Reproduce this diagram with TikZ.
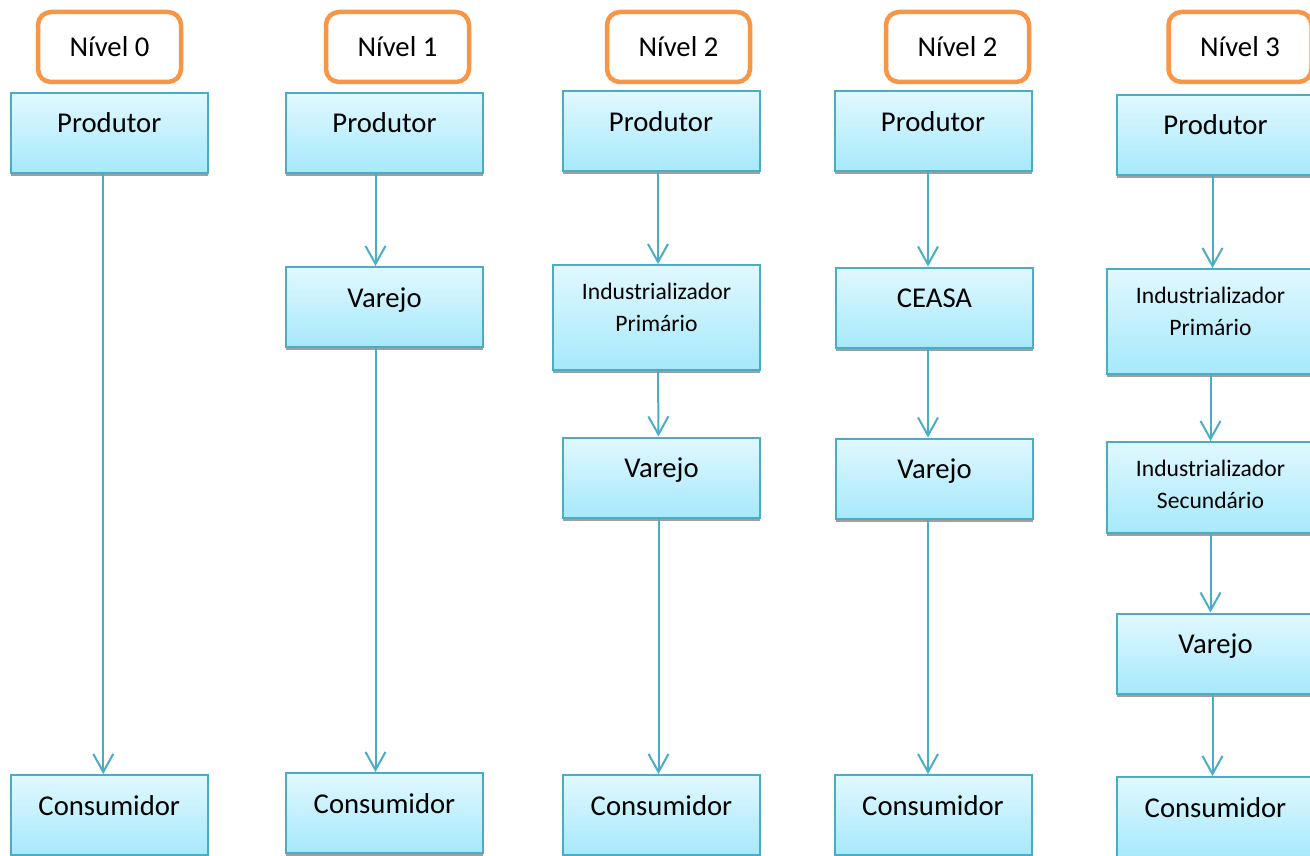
\documentclass[tikz,border=0pt]{standalone}
\usepackage{fontspec}
\setmainfont{Carlito}
\usetikzlibrary{arrows.meta,shadows}
\definecolor{aqua}{HTML}{4BACC6}
\definecolor{aquatop}{HTML}{E1F8FF}
\definecolor{aquabot}{HTML}{A6E9FB}
\definecolor{lvlorange}{HTML}{F79646}
\tikzset{
  lvlbox/.style={draw=lvlorange, line width=4.5pt, rounded corners=13pt, fill=white,
    minimum width=143pt, minimum height=70pt, inner sep=0pt,
    font=\fontsize{28.7pt}{34pt}\selectfont},
  stagebox/.style={draw=aqua, line width=2pt, top color=aquatop, bottom color=aquabot,
    minimum width=197pt, minimum height=80pt, inner sep=0pt,
    font=\fontsize{28.7pt}{34pt}\selectfont, text height=20pt, text depth=20pt,
    drop shadow={shadow xshift=0pt, shadow yshift=-3pt, fill=gray!75, opacity=1}},
  twolinebox/.style={stagebox, minimum width=207pt, minimum height=105pt, align=center,
    font=\fontsize{23.6pt}{32pt}\selectfont, text height=40pt, text depth=13pt},
  flow/.style={draw=aqua, line width=2pt, -{Straight Barb[length=18pt,width=20pt]}}
}
\begin{document}
\begin{tikzpicture}[x=1pt,y=-1pt]
\useasboundingbox (0,0) rectangle (1310,856);
% draw level 0
\node[lvlbox] (n0) at (109.5,47) {Nível 0};
\node[stagebox] (prod0) at (109.25,133) {Produtor};
\node[stagebox] (cons0) at (109.25,815) {Consumidor};
\draw[flow] ([xshift=-6pt]prod0.south) -- ([xshift=-6pt]cons0.north);
% draw level 1
\node[lvlbox] (n1) at (397.5,47) {Nível 1};
\node[stagebox] (prod1) at (384.5,133) {Produtor};
\node[stagebox] (var1) at (384.5,307) {Varejo};
\node[stagebox] (cons1) at (384.5,813) {Consumidor};
\draw[flow] ([xshift=-9pt]prod1.south) -- ([xshift=-9pt]var1.north);
\draw[flow] ([xshift=-9pt]var1.south) -- ([xshift=-9pt]cons1.north);
% draw level 2 (industry)
\node[lvlbox] (n2a) at (678.5,47) {Nível 2};
\node[stagebox] (prod2a) at (661,131.5) {Produtor};
\node[twolinebox] (ind2a) at (656.5,317.5) {Industrializador\\Primário};
\node[stagebox] (var2a) at (661.5,477.5) {Varejo};
\node[stagebox] (cons2a) at (661.5,815) {Consumidor};
\draw[flow] ([xshift=-3pt]prod2a.south) -- ([xshift=-3pt]prod2a.south |- ind2a.north);
\draw[flow] ([xshift=-3pt]ind2a.south -| prod2a.south) -- ([xshift=-3pt]var2a.north);
\draw[flow] ([xshift=-3pt]var2a.south) -- ([xshift=-3pt]cons2a.north);
% draw level 2 (ceasa)
\node[lvlbox] (n2b) at (957.5,47) {Nível 2};
\node[stagebox] (prod2b) at (933,131.5) {Produtor};
\node[stagebox] (ceasa) at (934.5,307.5) {CEASA};
\node[stagebox] (var2b) at (934.5,478.5) {Varejo};
\node[stagebox] (cons2b) at (933,815) {Consumidor};
\draw[flow] ([xshift=-5pt]prod2b.south) -- ([xshift=-5pt]prod2b.south |- ceasa.north);
\draw[flow] ([xshift=-5pt]ceasa.south -| prod2b.south) -- ([xshift=-5pt]prod2b.south |- var2b.north);
\draw[flow] ([xshift=-5pt]var2b.south -| prod2b.south) -- ([xshift=-5pt]cons2b.north);
% draw level 3
\node[lvlbox] (n3) at (1240,47) {Nível 3};
\node[stagebox] (prod3) at (1215.5,135) {Produtor};
\node[twolinebox] (ind3) at (1210.5,321.5) {Industrializador\\Primário};
\node[twolinebox, minimum height=91pt, text height=50pt, text depth=9pt] (sec3) at (1210.5,487.5) {Industrializador\\Secundário};
\node[stagebox] (var3) at (1215.5,653.5) {Varejo};
\node[stagebox] (cons3) at (1215.5,817) {Consumidor};
\draw[flow] ([xshift=-3pt]prod3.south) -- ([xshift=-3pt]prod3.south |- ind3.north);
\draw[flow] (ind3.south) -- (sec3.north);
\draw[flow] (sec3.south) -- (sec3.south |- var3.north);
\draw[flow] ([xshift=-3pt]var3.south) -- ([xshift=-3pt]cons3.north);
\end{tikzpicture}
\end{document}
